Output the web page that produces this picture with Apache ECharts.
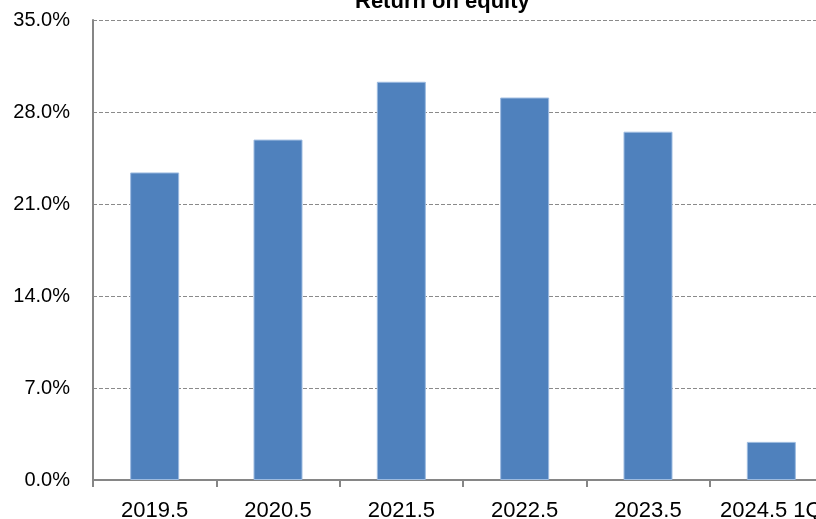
<!DOCTYPE html>
<html>
<head>
<meta charset="utf-8">
<script src="https://cdn.jsdelivr.net/npm/echarts@6/dist/echarts.min.js"></script>
<style>
  html, body { margin: 0; padding: 0; background: #fff; }
  #chart { width: 816px; height: 519px; }
</style>
</head>
<body>
<div id="chart"></div>
<script>
const categories = ["2019.5", "2020.5", "2021.5", "2022.5", "2023.5", "2024.5 1Q"];
const roeValues = [23.4, 25.9, 30.3, 29.1, 26.5, 2.9];
const chartTitle = "Return on equity";

const myChart = echarts.init(document.getElementById("chart"));
const option = {
    animation: false,
    title: {
        text: chartTitle,
        left: 350,
        top: -14,
        textStyle: {
            fontFamily: "Liberation Sans",
            fontSize: 22,
            fontWeight: "bold",
            color: "#000"
        }
    },
    grid: {
        left: 93,
        top: 20,
        width: 740,
        height: 460,
        containLabel: false,
        outerBoundsMode: "none"
    },
    xAxis: {
        type: "category",
        data: categories,
        axisLine: {
            lineStyle: { color: "#868686", width: 2 }
        },
        axisTick: {
            show: true,
            interval: 0,
            length: 7,
            lineStyle: { color: "#868686", width: 2 }
        },
        axisLabel: {
            interval: 0,
            margin: 20,
            color: "#000",
            fontFamily: "Liberation Sans",
            fontSize: 22
        }
    },
    yAxis: {
        type: "value",
        min: 0,
        max: 35,
        interval: 7,
        axisLine: {
            show: true,
            lineStyle: { color: "#868686", width: 2 }
        },
        axisTick: { show: false },
        axisLabel: {
            margin: 23,
            color: "#000",
            fontFamily: "Liberation Sans",
            fontSize: 20,
            formatter: v => v.toFixed(1) + "%"
        },
        splitLine: {
            lineStyle: { color: "#8a8a8a", type: [4, 2], width: 1 }
        }
    },
    series: [
        {
            type: "bar",
            data: roeValues,
            barWidth: 49,
            itemStyle: {
                color: "#4F81BD",
                borderColor: "#9dbbe0",
                borderWidth: 1
            }
        }
    ]
};
myChart.setOption(option);
</script>
</body>
</html>
